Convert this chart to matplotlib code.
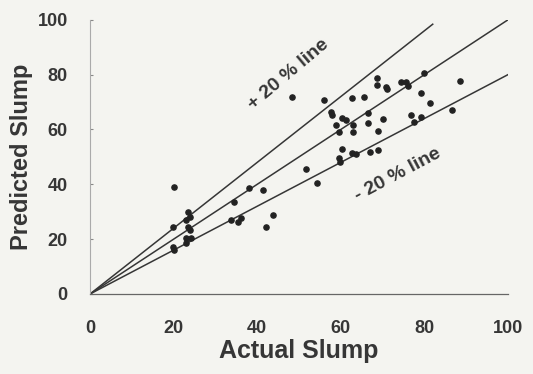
import numpy as np
import matplotlib
matplotlib.use('Agg')
import matplotlib.pyplot as plt

# Measured vs. predicted slump
actual = [20.2, 19.8, 19.8, 20.2, 23.4, 23.8, 23.0, 23.4, 23.8, 23.0, 24.2, 23.0,
          34.5, 38.0, 41.3, 33.7, 35.3, 36.0, 42.0, 43.7,
          48.3, 51.7, 54.3, 56.0, 57.6, 57.9, 60.2, 61.2, 58.8, 59.5,
          62.6, 65.5, 62.9, 62.9, 66.4, 66.4, 70.2, 68.8,
          68.6, 68.6, 70.7, 71.0, 74.3, 75.7, 76.2, 80.0, 79.3, 81.4,
          76.7, 77.6, 79.3, 88.6, 86.7,
          60.2, 59.5, 59.8, 62.6, 63.6, 67.1, 69.0]
predicted = [39.2, 24.6, 17.3, 16.0, 30.0, 28.2, 27.0, 24.6, 23.4, 20.3, 20.3, 18.5,
             33.7, 38.6, 38.0, 27.0, 26.4, 27.6, 24.3, 28.8,
             71.9, 45.6, 40.5, 70.8, 66.4, 65.3, 64.2, 63.5, 61.7, 59.1,
             71.5, 71.9, 61.7, 59.1, 66.0, 62.4, 63.9, 59.5,
             78.8, 76.3, 75.5, 74.8, 77.4, 77.4, 75.9, 80.7, 73.4, 69.7,
             65.3, 62.8, 64.6, 77.7, 67.2,
             52.9, 49.6, 48.2, 51.5, 51.1, 51.8, 52.6]

ticks = [0, 20, 40, 60, 80, 100]
ink = '#363636'
paper = '#f4f4f0'
font = 'Liberation Sans'

fig = plt.figure(figsize=(5.33, 3.74), dpi=100, facecolor=paper)
ax = fig.add_axes([0.169, 0.214, 0.784, 0.733], facecolor=paper)

# 1:1 line and +/-20 % bounds
x = np.array([0, 100])
ax.plot(x, x, color=ink, lw=1.1)
ax.plot([0, 82], [0, 1.2 * 82], color=ink, lw=1.1)
ax.plot(x, 0.8 * x, color=ink, lw=1.1)

ax.scatter(actual, predicted, s=14, color='#222222', zorder=5)

ax.text(47.4, 80.0, '+ 20 % line', rotation=40, ha='center', va='center',
        fontsize=14, fontweight='bold', color=ink, family=font)
ax.text(73.7, 43.4, '- 20 % line', rotation=28, ha='center', va='center',
        fontsize=14, fontweight='bold', color=ink, family=font)

ax.set_xlim(0, 100)
ax.set_ylim(0, 100)
ax.set_xticks(ticks)
ax.set_yticks(ticks)
for lab in ax.get_xticklabels() + ax.get_yticklabels():
    lab.set_fontweight('bold')
    lab.set_fontsize(13)
    lab.set_family(font)
    lab.set_color(ink)
ax.tick_params(axis='x', length=0, pad=19)
ax.tick_params(axis='y', length=2, pad=16, color='#888888', direction='in')

ax.set_xlabel('Actual Slump', fontsize=18, fontweight='bold', color=ink,
              family=font, labelpad=1)
ax.set_ylabel('Predicted Slump', fontsize=17, fontweight='bold', color=ink,
              family=font, labelpad=3)

for side in ['top', 'right']:
    ax.spines[side].set_visible(False)
ax.spines['left'].set_color('#aaaaaa')
ax.spines['left'].set_linewidth(0.8)
ax.spines['bottom'].set_color('#666666')
ax.spines['bottom'].set_linewidth(0.9)

fig.savefig('out.png', dpi=100, facecolor=paper)
